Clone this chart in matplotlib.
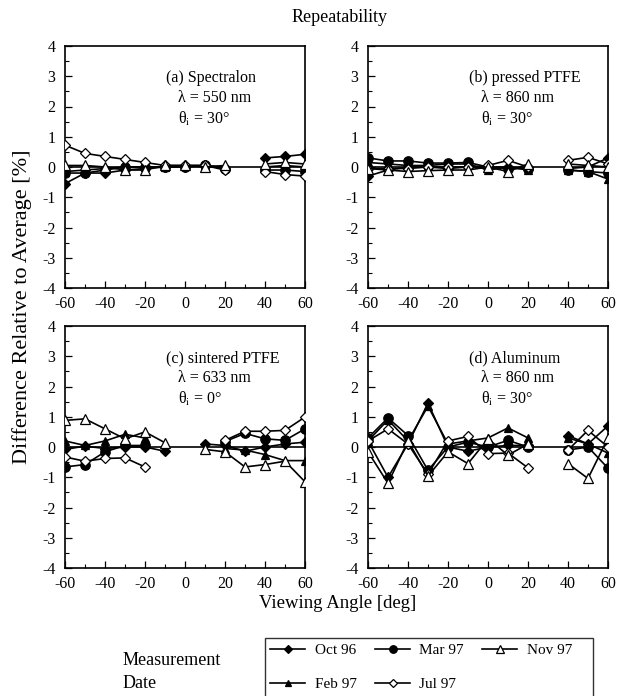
import numpy as np
import matplotlib
matplotlib.use("Agg")
import matplotlib.pyplot as plt
from matplotlib.ticker import MultipleLocator
from matplotlib.lines import Line2D

plt.rcParams['font.family'] = ['Liberation Serif', 'DejaVu Serif']
plt.rcParams['mathtext.fontset'] = 'stix'
plt.rcParams['axes.unicode_minus'] = False

nan = np.nan
angles = [-60, -50, -40, -30, -20, -10, 0, 10, 20, 30, 40, 50, 60]

series_names = ["Oct 96", "Feb 97", "Mar 97", "Jul 97", "Nov 97"]

# (a) Spectralon, 550 nm, 30 deg (no data at 30)
a_oct96 = [-0.55, -0.2, -0.2, -0.1, -0.05, 0.0, 0.0, 0.05, -0.05, nan, 0.3, 0.35, 0.42]
a_feb97 = [-0.15, -0.1, -0.05, 0.0, 0.0, 0.0, 0.05, 0.05, 0.0, nan, 0.0, 0.05, 0.0]
a_mar97 = [-0.2, -0.2, -0.1, 0.0, 0.0, 0.0, 0.0, 0.05, -0.05, nan, -0.1, -0.1, -0.15]
a_jul97 = [0.72, 0.45, 0.35, 0.25, 0.15, 0.05, 0.05, 0.05, -0.1, nan, -0.15, -0.25, -0.3]
a_nov97 = [0.05, 0.05, 0.0, -0.1, -0.1, 0.05, 0.05, 0.0, 0.05, nan, 0.1, 0.15, 0.1]

# (b) pressed PTFE, 860 nm, 30 deg
b_oct96 = [-0.3, -0.1, 0.0, 0.0, -0.05, 0.0, 0.0, 0.0, -0.05, nan, -0.05, 0.0, 0.3]
b_feb97 = [0.15, 0.1, 0.05, 0.05, 0.1, 0.1, -0.1, 0.0, -0.1, nan, -0.1, -0.15, -0.4]
b_mar97 = [0.3, 0.2, 0.2, 0.13, 0.13, 0.15, 0.0, -0.05, -0.05, nan, -0.1, -0.15, -0.2]
b_jul97 = [-0.05, -0.05, -0.05, 0.0, 0.0, 0.0, 0.05, 0.22, 0.0, nan, 0.22, 0.32, 0.1]
b_nov97 = [-0.05, -0.1, -0.15, -0.12, -0.1, -0.1, 0.0, -0.15, 0.1, nan, 0.1, 0.05, 0.0]

# (c) sintered PTFE, 633 nm, 0 deg (no data at 0)
c_oct96 = [-0.08, 0.03, -0.05, 0.0, 0.0, -0.14, nan, 0.1, 0.05, -0.14, 0.0, 0.1, 0.16]
c_feb97 = [0.2, 0.05, 0.2, 0.42, 0.3, nan, nan, nan, -0.05, -0.1, -0.25, -0.45, -0.45]
c_mar97 = [-0.66, -0.58, -0.16, 0.05, 0.05, nan, nan, nan, 0.18, 0.45, 0.27, 0.22, 0.6]
c_jul97 = [-0.33, -0.47, -0.38, -0.36, -0.66, nan, nan, nan, 0.22, 0.52, 0.52, 0.55, 0.99]
c_nov97 = [0.88, 0.93, 0.6, 0.27, 0.5, 0.14, nan, -0.08, -0.16, -0.66, -0.58, -0.47, -1.15]

# (d) Aluminum, 860 nm, 30 deg
d_oct96 = [0.2, -1.0, 0.1, 1.45, 0.0, -0.14, 0.0, 0.05, 0.05, nan, 0.38, 0.1, 0.7]
d_feb97 = [0.2, 0.9, 0.2, 1.35, 0.1, 0.2, 0.3, 0.63, 0.3, nan, 0.3, 0.1, -0.2]
d_mar97 = [0.3, 0.96, 0.38, -0.77, 0.0, 0.16, 0.0, 0.22, 0.0, nan, -0.1, 0.0, -0.7]
d_jul97 = [0.2, 0.6, 0.1, -0.9, 0.2, 0.35, -0.22, -0.2, -0.69, nan, -0.1, 0.55, 0.0]
d_nov97 = [-0.16, -1.2, 0.2, -0.96, -0.16, -0.55, 0.27, -0.27, 0.1, nan, -0.55, -1.04, 0.3]

panel_labels = ["(a) Spectralon\n   λ = 550 nm\n   θ$_\\mathrm{i}$ = 30°",
                "(b) pressed PTFE\n   λ = 860 nm\n   θ$_\\mathrm{i}$ = 30°",
                "(c) sintered PTFE\n   λ = 633 nm\n   θ$_\\mathrm{i}$ = 0°",
                "(d) Aluminum\n   λ = 860 nm\n   θ$_\\mathrm{i}$ = 30°"]

panels = [
    [a_oct96, a_feb97, a_mar97, a_jul97, a_nov97],
    [b_oct96, b_feb97, b_mar97, b_jul97, b_nov97],
    [c_oct96, c_feb97, c_mar97, c_jul97, c_nov97],
    [d_oct96, d_feb97, d_mar97, d_jul97, d_nov97],
]

styles = {
    "Oct 96": dict(marker='D', markersize=4.8, markerfacecolor='black'),
    "Feb 97": dict(marker='^', markersize=6.2, markerfacecolor='black'),
    "Mar 97": dict(marker='o', markersize=6.8, markerfacecolor='black'),
    "Jul 97": dict(marker='D', markersize=5.2, markerfacecolor='white'),
    "Nov 97": dict(marker='^', markersize=7, markerfacecolor='white'),
}

W, H = 623, 696
fig = plt.figure(figsize=(W / 100, H / 100), dpi=100)

ax_w = 240 / W
ax_h = 242 / H
lefts = [65 / W, 368 / W]
bottoms = [1 - 288 / H, 1 - 568 / H]
positions = [(lefts[0], bottoms[0]), (lefts[1], bottoms[0]),
             (lefts[0], bottoms[1]), (lefts[1], bottoms[1])]

for i, (pos, data) in enumerate(zip(positions, panels)):
    ax = fig.add_axes([pos[0], pos[1], ax_w, ax_h])
    ax.axhline(0, color='black', lw=1.2, zorder=1)
    for name, ys in zip(series_names, data):
        st = styles[name]
        ax.plot(angles, ys, color='black', lw=1.2,
                markeredgecolor='black', markeredgewidth=0.9,
                zorder=3, **st)
    ax.set_xlim(-60, 60)
    ax.set_ylim(-4, 4)
    ax.xaxis.set_major_locator(MultipleLocator(20))
    ax.xaxis.set_minor_locator(MultipleLocator(10))
    ax.yaxis.set_major_locator(MultipleLocator(1))
    ax.yaxis.set_minor_locator(MultipleLocator(0.5))
    ax.tick_params(which='both', direction='in', labelsize=11.5,
                   top=False, right=False)
    ax.tick_params(axis='x', which='major', pad=6)
    ax.tick_params(axis='y', which='major', pad=7)
    ax.tick_params(which='major', length=5, width=0.9)
    ax.tick_params(which='minor', length=3, width=0.8)
    for sp in ax.spines.values():
        sp.set_linewidth(1.2)
    ax.text(0.42, 0.90, panel_labels[i], transform=ax.transAxes,
            fontsize=11.5, va='top', ha='left', linespacing=1.3)

fig.text(340 / W, 1 - 18 / H, "Repeatability", ha='center', va='center',
         fontsize=13)
fig.text(22 / W, 1 - 307 / H, "Difference Relative to Average [%]",
         rotation=90, ha='center', va='center', fontsize=16)
fig.text(338 / W, 1 - 603 / H, "Viewing Angle [deg]", ha='center',
         va='center', fontsize=13.5)
fig.text(123 / W, 1 - 672 / H, "Measurement\nDate", ha='left',
         va='center', fontsize=13, linespacing=1.45)

order = ["Oct 96", "Feb 97", "Mar 97", "Jul 97", "Nov 97"]
legend_labels = ["Oct 96", "Feb 97", "Mar 97", "Jul 97", "Nov 97    "]
leg_handles = [Line2D([0], [0], color='black', lw=1.2,
                      markeredgecolor='black', markeredgewidth=0.9,
                      **{k: (v * 0.8 if k == 'markersize' else v)
                         for k, v in styles[n].items()})
               for n in order]
leg = fig.legend(leg_handles, legend_labels, ncol=3, loc='upper left',
                 bbox_to_anchor=(265 / W, 1 - 638 / H),
                 frameon=True, fancybox=False, edgecolor='black',
                 fontsize=11, handlelength=2.3, handletextpad=0.6,
                 columnspacing=1.2, borderpad=0.35, labelspacing=1.35,
                 borderaxespad=0)
leg.get_frame().set_linewidth(1.0)

fig.savefig("out.png", dpi=100)
